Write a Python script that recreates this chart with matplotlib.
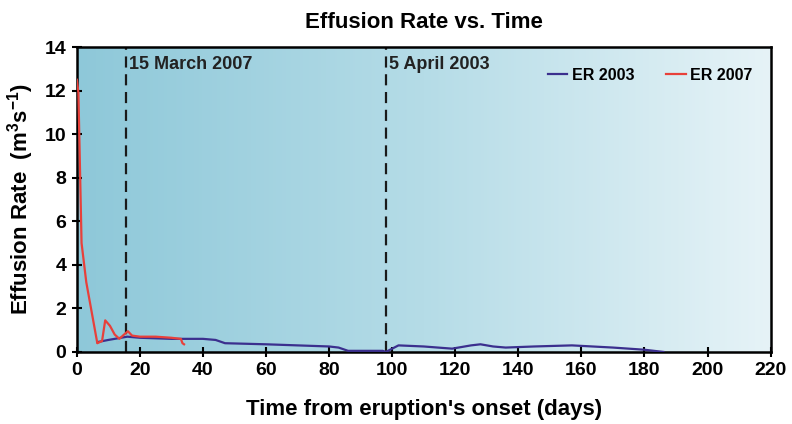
import numpy as np
import matplotlib
matplotlib.use("Agg")
import matplotlib.pyplot as plt
from matplotlib.colors import LinearSegmentedColormap

plt.rcParams['font.family'] = ['Liberation Sans', 'DejaVu Sans']
plt.rcParams['font.weight'] = 'bold'

# Data
days_2003 = [6.5, 10, 16, 20, 30, 40, 44, 47, 60, 70, 80, 83, 86, 90, 97, 98, 100, 102,
             110, 119, 125, 128, 132, 136, 145, 157, 170, 180, 186]
er_2003 = [0.45, 0.55, 0.7, 0.65, 0.6, 0.6, 0.55, 0.4, 0.35, 0.3, 0.25, 0.2, 0.05, 0.05,
           0.05, 0.0, 0.15, 0.3, 0.25, 0.15, 0.3, 0.35, 0.25, 0.2, 0.25, 0.3, 0.2, 0.1, 0.0]
days_2007 = [0, 0.5, 1.5, 3, 5, 6.5, 8, 9, 10.5, 12, 13.5, 15, 16.2, 17.5, 20, 25, 30, 33,
             33.5, 34]
er_2007 = [12.5, 11.9, 5.0, 3.2, 1.6, 0.4, 0.5, 1.45, 1.2, 0.8, 0.6, 0.8, 0.95, 0.75, 0.7,
           0.7, 0.65, 0.6, 0.4, 0.35]
event_days = [15.5, 98]
event_labels = ["15 March 2007", "5 April 2003"]
x_ticks = list(range(0, 221, 20))
y_ticks = list(range(0, 15, 2))

fig = plt.figure(figsize=(7.92, 4.24), dpi=100)
ax = fig.add_axes([0.097, 0.170, 0.876, 0.719])

cmap = LinearSegmentedColormap.from_list("bg", ["#8ec8d9", "#b5dce7", "#e6f3f7"])
grad = np.linspace(0, 1, 256).reshape(1, -1)
ax.imshow(grad, cmap=cmap, aspect='auto', extent=[0, 1, 0, 1],
          transform=ax.transAxes, zorder=0)

ax.plot(days_2003, er_2003, color="#3b2f8e", lw=1.6, label="ER 2003", zorder=3)
ax.plot(days_2007, er_2007, color="#e8403a", lw=1.6, label="ER 2007", zorder=4)

for d, lab in zip(event_days, event_labels):
    ax.axvline(d, color="#1a1a1a", ls=(0, (5, 3)), lw=1.6, zorder=2)
    ax.text(d + 1.0, 13.6, lab, fontsize=13, fontweight='bold', va='top',
            ha='left', color="#222222")

ax.set_xlim(0, 220)
ax.set_ylim(0, 14)
ax.set_xticks(x_ticks)
ax.set_yticks(y_ticks)
ax.tick_params(direction='inout', length=7, width=1.5, labelsize=14, pad=4)
for lab in ax.get_xticklabels() + ax.get_yticklabels():
    lab.set_fontweight('bold')
for s in ax.spines.values():
    s.set_linewidth(1.8)

ax.set_title("Effusion Rate vs. Time", fontsize=16, fontweight='bold', pad=14)
ax.set_xlabel("Time from eruption's onset (days)", fontsize=16, fontweight='bold', labelpad=14)
ax.set_ylabel("Effusion Rate  (m$^\\mathregular{3}$s$^\\mathregular{-1}$)", fontsize=16,
              fontweight='bold', labelpad=6)

leg = ax.legend(loc='upper right', ncol=2, frameon=False, fontsize=11.5,
                handlelength=1.2, handletextpad=0.3, columnspacing=2.0,
                bbox_to_anchor=(0.995, 0.98))
for t in leg.get_texts():
    t.set_fontweight('bold')

fig.savefig("out.png", dpi=100)
